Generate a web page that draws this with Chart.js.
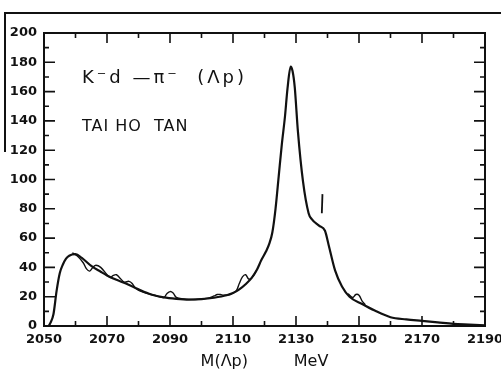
<!DOCTYPE html>
<html lang="en">
<head>
<meta charset="UTF-8">
<title>K-d - pi- (Lambda p) mass spectrum</title>
<script src="https://cdn.jsdelivr.net/npm/chart.js"></script>
<style>
    body {
        margin: 0;
        background: #fff;
    }
    .wrap {
        position: relative;
        width: 501px;
        height: 371px;
        overflow: hidden;
    }
    /* scan edges of the page */
    .edge-top {
        position: absolute;
        left: 4px;
        top: 12px;
        width: 497px;
        height: 2px;
        background: #111;
    }
    .edge-left {
        position: absolute;
        left: 4px;
        top: 12px;
        width: 2px;
        height: 140px;
        background: #111;
    }
    canvas {
        position: absolute;
        left: 0;
        top: 0;
    }
</style>
</head>
<body>
<div class="wrap">
    <div class="edge-top"></div>
    <div class="edge-left"></div>
    <canvas id="spectrum" width="501" height="371"></canvas>
</div>

<script>
// tick labels
var xTicks = [2050, 2070, 2090, 2110, 2130, 2150, 2170, 2190];
var yTicks = [0, 20, 40, 60, 80, 100, 120, 140, 160, 180, 200];

// fitted curve, M(Λp) in MeV vs events
var fitMass = [2051.5, 2052, 2053, 2054, 2055, 2056, 2057, 2058, 2060, 2062, 2065, 2068, 2070, 2073, 2076,
    2080, 2084, 2088, 2092, 2096, 2100, 2104, 2108, 2110, 2112, 2114, 2116, 2117.5, 2119, 2120.5, 2121.5,
    2122.5, 2123.5, 2124.5, 2125.5, 2126.5, 2127.3, 2128.3, 2128.9, 2129.6, 2130.6, 2132.2, 2134, 2135, 2137.3,
    2139.2, 2140.4, 2142.4, 2144.6, 2147, 2151, 2155, 2160, 2165, 2170, 2175, 2180, 2185, 2190];
var fitCounts = [0, 2, 8, 24, 36, 42, 46, 48, 49, 46.5, 41, 37, 34.5, 31.5, 29,
    25, 21.5, 19.5, 18.5, 18, 18.3, 19.3, 21, 22.5, 25, 28.5, 33, 38, 45, 51, 56,
    64, 80, 102, 124, 143, 162, 177, 174, 163, 133, 99, 77, 73, 68.5,
    65, 55, 38, 27, 20, 15, 10.5, 6, 4.5, 3.5, 2.5, 1.5, 1, 0.5];

// measured histogram where it departs from the curve (null = hidden under the curve)
var histMass = [2059, 2061, 2062.5, 2063.5, 2064.5, 2065.5, 2066.5, 2068, 2070, 2071, 2072, 2073, 2074,
    2075.5, 2077, 2078, 2079, 2081, 2085, 2088, 2089, 2090, 2091, 2092, 2094, 2098, 2102, 2104, 2105,
    2106, 2107, 2109, 2111, 2112, 2113, 2114, 2115, 2116, 2117.5, 2130, 2146.5, 2148, 2149, 2150, 2151, 2152];
var histCounts = [50, 47, 43, 39, 37.5, 40, 41.5, 40, 35, 33, 34.5, 35, 33,
    30, 30.5, 29, 26, 23.5, 21, 19.5, 22, 23.5, 22.5, 19.5, 18.5, 18, 19, 20.5, 21.5,
    21.5, 21, 21.5, 24, 29, 33.5, 35, 32, 33, 38, null, 22, 19.5, 21.5, 21, 17, 14.5];

// small marker to the right of the peak
var markMass = [2138.2, 2138.4];
var markCounts = [77, 90];

function toPoints(xs, ys) {
    return xs.map(function (x, i) { return { x: x, y: ys[i] }; });
}

var frameAndTicks = {
    id: 'frameAndTicks',
    afterDraw: function (chart) {
        var c = chart.ctx, a = chart.chartArea;
        var xs = chart.scales.x, ys = chart.scales.y;
        c.save();
        c.strokeStyle = '#111';
        c.lineWidth = 2;
        c.strokeRect(a.left, a.top, a.right - a.left, a.bottom - a.top);
        c.lineWidth = 1.6;
        c.beginPath();
        xTicks.forEach(function (v, i) {
            var vals = [[v, 10]];
            if (i < xTicks.length - 1) vals.push([(v + xTicks[i + 1]) / 2, 5]);
            vals.forEach(function (t) {
                var px = xs.getPixelForValue(t[0]);
                c.moveTo(px, a.bottom); c.lineTo(px, a.bottom - t[1]);
                c.moveTo(px, a.top); c.lineTo(px, a.top + t[1]);
            });
        });
        yTicks.forEach(function (v, i) {
            var vals = [[v, 11]];
            if (i < yTicks.length - 1) vals.push([(v + yTicks[i + 1]) / 2, 5]);
            vals.forEach(function (t) {
                var py = ys.getPixelForValue(t[0]);
                c.moveTo(a.left, py); c.lineTo(a.left + t[1], py);
                c.moveTo(a.right, py); c.lineTo(a.right - t[1], py);
            });
        });
        c.stroke();

        // reaction and author text
        c.fillStyle = '#111';
        c.textBaseline = 'alphabetic';
        c.font = '18px "DejaVu Sans"';
        c.letterSpacing = '3px';
        c.fillText('K\u207Bd \u2014\u03C0\u207B  (\u039Bp)', a.left + 38, a.top + 50);
        c.font = '16px "DejaVu Sans"';
        c.letterSpacing = '1px';
        c.fillText('TAI HO  TAN', a.left + 38, a.top + 98);
        c.restore();
    }
};

new Chart(document.getElementById('spectrum'), {
    type: 'scatter',
    data: {
        datasets: [{
            label: 'fit',
            data: toPoints(fitMass, fitCounts),
            showLine: true,
            borderColor: '#111',
            borderWidth: 2.2,
            pointRadius: 0,
            cubicInterpolationMode: 'monotone'
        }, {
            label: 'data',
            data: toPoints(histMass, histCounts),
            showLine: true,
            spanGaps: false,
            borderColor: '#111',
            borderWidth: 1.4,
            pointRadius: 0,
            tension: 0.35
        }, {
            label: 'mark',
            data: toPoints(markMass, markCounts),
            showLine: true,
            borderColor: '#111',
            borderWidth: 1.8,
            pointRadius: 0
        }]
    },
    options: {
        responsive: false,
        animation: false,
        layout: { padding: { top: 33, right: 16, left: 0, bottom: 0 } },
        plugins: { legend: { display: false }, tooltip: { enabled: false } },
        scales: {
            x: {
                type: 'linear',
                min: 2050,
                max: 2190,
                afterBuildTicks: function (s) { s.ticks = xTicks.map(function (v) { return { value: v }; }); },
                afterFit: function (s) { s.height = 45; s.paddingRight = 0; s.paddingLeft = 0; },
                grid: { display: false, drawTicks: false },
                border: { display: false },
                ticks: {
                    color: '#111',
                    padding: 6,
                    maxRotation: 0,
                    font: { family: 'DejaVu Sans', size: 13, weight: 'bold' },
                    callback: function (v) { return String(v); }
                },
                title: {
                    display: true,
                    text: 'M(\u039Bp)         MeV',
                    color: '#111',
                    padding: { top: 0, bottom: 0 },
                    font: { family: 'DejaVu Sans', size: 16 }
                }
            },
            y: {
                min: 0,
                max: 200,
                afterBuildTicks: function (s) { s.ticks = yTicks.map(function (v) { return { value: v }; }); },
                afterFit: function (s) { s.width = 44; },
                grid: { display: false, drawTicks: false },
                border: { display: false },
                ticks: {
                    color: '#111',
                    padding: 7,
                    font: { family: 'DejaVu Sans', size: 13, weight: 'bold' }
                }
            }
        }
    },
    plugins: [frameAndTicks]
});
</script>
</body>
</html>
